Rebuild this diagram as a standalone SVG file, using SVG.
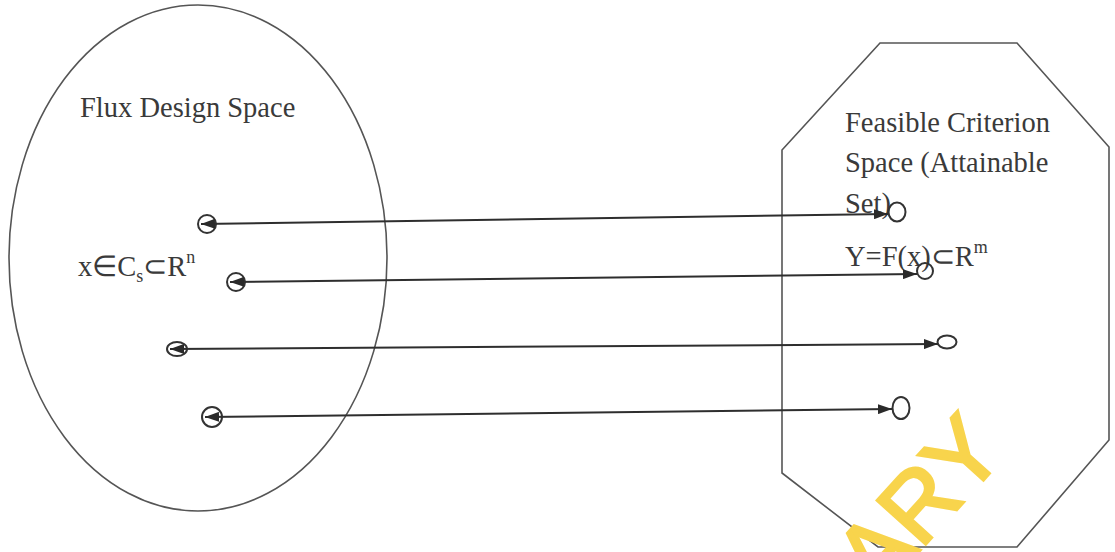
<svg xmlns="http://www.w3.org/2000/svg" width="1115" height="552" viewBox="0 0 1115 552">
<style>
.lbl{font-family:"Liberation Serif","Times New Roman",serif;fill:#3a3a3a;font-size:28.5px}
.shape{fill:none;stroke:#555;stroke-width:1.6}
.conn{stroke:#2e2e2e;stroke-width:2;fill:none;marker-start:url(#ah);marker-end:url(#ah)}
.dot{fill:none;stroke:#333;stroke-width:2}
.wm{font-family:"Liberation Sans",Arial,sans-serif;font-size:95px;fill:#f8d44c;stroke:#f8d44c;stroke-width:3}
</style>
<defs>
<marker id="ah" markerUnits="userSpaceOnUse" markerWidth="14" markerHeight="10" refX="14" refY="5" orient="auto-start-reverse">
<path d="M0,0 L14,5 L0,10 z" fill="#2a2a2a"/>
</marker>
</defs>
<rect width="1115" height="552" fill="#fff"/>
<g id="flux-design-space">
<ellipse class="shape" cx="198" cy="258" rx="189" ry="253"/>
<text class="lbl" x="80" y="117">Flux Design Space</text>
<text class="lbl" x="78" y="276">x∈C<tspan font-size="18" dy="6">s</tspan><tspan dy="-6">⊂R</tspan><tspan font-size="18" dy="-13">n</tspan></text>
</g>
<g id="feasible-criterion-space">
<polygon class="shape" points="880,43 1017,43 1109,147 1109,440 1017,547 878,547 782,473 782,150"/>
<text class="lbl" x="845" y="132">Feasible Criterion</text>
<text class="lbl" x="845" y="172">Space (Attainable</text>
<text class="lbl" x="845" y="213">Set)</text>
<text class="lbl" x="845" y="266">Y=F(x)⊂R<tspan font-size="18" dy="-13">m</tspan></text>
</g>
<g id="points">
<circle class="dot" cx="207" cy="224" r="9"/>
<circle class="dot" cx="236" cy="282" r="9"/>
<ellipse class="dot" cx="177" cy="349" rx="10" ry="7"/>
<circle class="dot" cx="212" cy="417" r="10"/>
<ellipse class="dot" cx="897" cy="212" rx="8.5" ry="9.5"/>
<ellipse class="dot" cx="925" cy="271" rx="8" ry="8"/>
<ellipse class="dot" cx="947" cy="342" rx="9.5" ry="6.5"/>
<ellipse class="dot" cx="901" cy="408" rx="8.5" ry="11"/>
</g>
<g id="connectors">
<line class="conn" x1="201" y1="224" x2="888" y2="214"/>
<line class="conn" x1="230" y1="282" x2="917" y2="274"/>
<line class="conn" x1="170" y1="349" x2="938" y2="344"/>
<line class="conn" x1="205" y1="417" x2="892" y2="409"/>
</g>
<text class="wm" transform="translate(878,597) rotate(-48)">ARY</text>
</svg>
